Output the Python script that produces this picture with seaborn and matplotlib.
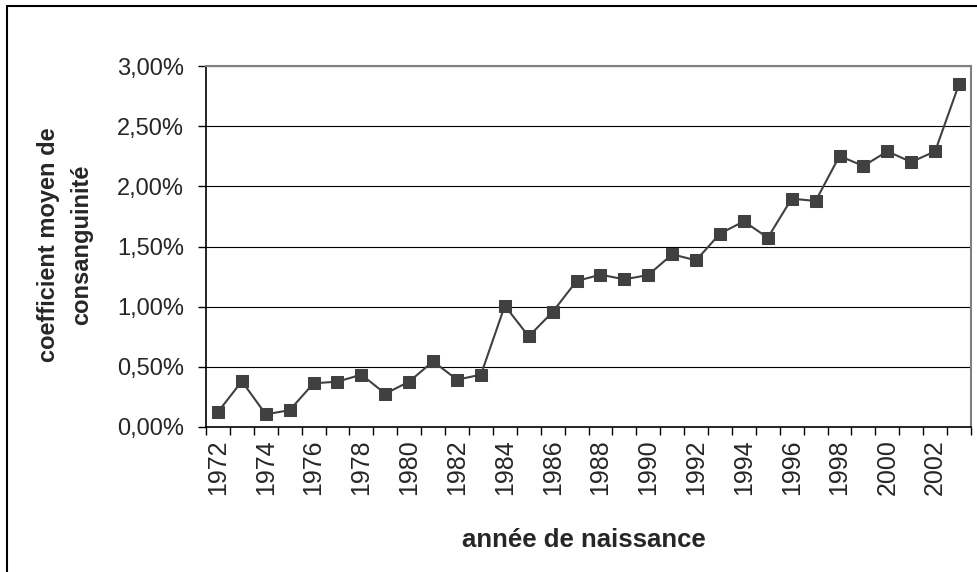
import numpy as np
import pandas as pd
import matplotlib
matplotlib.use('Agg')
import matplotlib.pyplot as plt
import matplotlib.ticker as mtick
from matplotlib.lines import Line2D
import seaborn as sns

years = list(range(1972, 2004))
coeff = [0.125, 0.38, 0.105, 0.14, 0.363, 0.377, 0.435, 0.277, 0.377, 0.546,
         0.393, 0.435, 1.008, 0.753, 0.956, 1.213, 1.266, 1.227, 1.263, 1.435,
         1.385, 1.607, 1.709, 1.573, 1.898, 1.878, 2.252, 2.169, 2.291, 2.202,
         2.291, 2.850]

df = pd.DataFrame({'annee': years, 'coeff': coeff})
df['pos'] = np.arange(len(df))

sns.set_style('white')
plt.rcParams['font.family'] = ['Liberation Sans', 'DejaVu Sans']

W, H = 977, 572
fig = plt.figure(figsize=(W / 100, H / 100), dpi=100)
left, right, top, bottom = 206, 971, 66, 427
ax = fig.add_axes([left / W, 1 - bottom / H, (right - left) / W, (bottom - top) / H])

sns.lineplot(data=df, x='pos', y='coeff', ax=ax, color='#404040', lw=1.5,
             marker='s', markersize=8.5, markeredgecolor='#404040', markerfacecolor='#404040')

ax.set_xlim(-0.5, len(df) - 0.5)
ax.set_ylim(0, 3)
ax.set_yticks(np.arange(0, 3.01, 0.5))
ax.yaxis.set_major_formatter(mtick.FuncFormatter(lambda v, p: f'{v:.2f}%'.replace('.', ',')))
ax.yaxis.grid(True, color='black', lw=0.8)
ax.set_axisbelow(True)

# category axis: labels at centers, ticks at boundaries
ax.set_xticks(df['pos'])
ax.set_xticklabels([str(y) if (y - 1972) % 2 == 0 else '' for y in df['annee']], rotation=90)
ax.set_xticks(np.arange(-0.5, len(df), 1), minor=True)
ax.tick_params(axis='x', which='major', length=0, pad=9, labelsize=18)
ax.tick_params(axis='x', which='minor', length=6, width=1, color='black', direction='out', bottom=True)
ax.tick_params(axis='y', length=6, width=1, color='black', direction='out', left=True, labelsize=17, pad=10)

for s in ['top', 'right']:
    ax.spines[s].set_color('#808080')
    ax.spines[s].set_linewidth(1.5)
for s in ['left', 'bottom']:
    ax.spines[s].set_color('black')
    ax.spines[s].set_linewidth(1.2)

ax.set_xlabel('')
ax.set_ylabel('')
fig.text(584 / W, 1 - 540 / H, 'année de naissance', fontsize=18.5, fontweight='bold',
         ha='center', va='center')
fig.text(65 / W, 1 - 245 / H, 'coefficient moyen de\nconsanguinité', fontsize=17,
         fontweight='bold', rotation=90, ha='center', va='center', linespacing=1.55,
         multialignment='center')

# outer chart frame (left and top edges visible)
fig.add_artist(Line2D([7 / W, 7 / W], [0, 1 - 6 / H], color='black', lw=1.5))
fig.add_artist(Line2D([7 / W, 1], [1 - 6 / H, 1 - 6 / H], color='black', lw=1.5))

fig.savefig('out.png', dpi=100)
